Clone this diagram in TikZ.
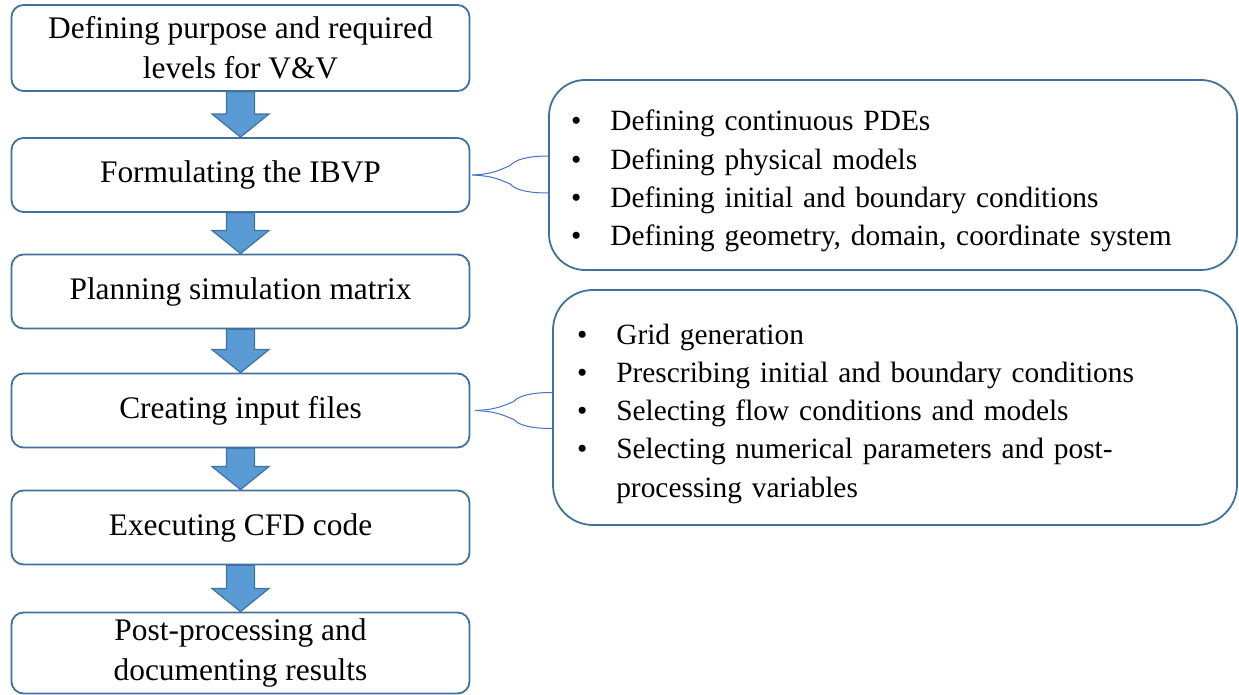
\documentclass[tikz,border=0pt]{standalone}
\usepackage{fontspec}
\setmainfont{Liberation Serif}
\usetikzlibrary{calc}
\definecolor{boxline}{HTML}{41719C}
\definecolor{arrowfill}{HTML}{5B9BD5}
\definecolor{braceline}{HTML}{4472C4}

% broad block arrow between two stacked steps
\newcommand{\steparrow}[2]{%
  \draw[boxline,fill=arrowfill,line width=0.6pt]
    ([xshift=-7pt]#1.south) -- ([xshift=-7pt,yshift=11.5pt]#2.north)
    -- ([xshift=-14.2pt,yshift=11.5pt]#2.north) -- (#2.north)
    -- ([xshift=14.2pt,yshift=11.5pt]#2.north) -- ([xshift=7pt,yshift=11.5pt]#2.north)
    -- ([xshift=7pt]#1.south) -- cycle;}

% split brace from a step to its detail box
\newcommand{\splitbrace}[3]{%
  \draw[braceline,line width=0.5pt] (#1) .. controls +(22,-1) and +(-10,4) .. ($(#1)!.5!(#2)$)
    .. controls +(5,-6) and +(-20,0) .. (#2);
  \draw[braceline,line width=0.5pt] (#1) .. controls +(22,1) and +(-10,-4) .. ($(#1)!.5!(#3)$)
    .. controls +(5,6) and +(-20,0) .. (#3);}

% bullet list, set a little low in its box
\newcommand{\detaillist}[1]{%
  \raisebox{-2.8pt}[\height][\depth]{\begin{tabular}{@{}l@{\hspace{14.5pt}}l@{}}#1\end{tabular}}}

\begin{document}
\begin{tikzpicture}[x=0.5pt,y=-0.5pt,
  stepbox/.style={draw=boxline,line width=0.9pt,rounded corners=6pt,fill=white,
    minimum width=229pt,minimum height=37pt,align=center,inner sep=2pt,
    font=\fontsize{15.7}{20}\selectfont},
  infobox/.style={draw=boxline,line width=0.9pt,fill=white,align=left,
    font=\fontsize{14.7}{19.1}\selectfont}]
  \useasboundingbox (0,0) rectangle (1239,695);

  % steps
  \node[stepbox,minimum height=43pt] (purpose) at (240.5,48) {Defining purpose and required\\levels for V\&V};
  \node[stepbox] (ibvp) at (240.5,175) {Formulating the IBVP};
  \node[stepbox] (matrix) at (240.5,291.5) {Planning simulation matrix};
  \node[stepbox] (input) at (240.5,410.5) {Creating input files};
  \node[stepbox] (exec) at (240.5,527.5) {Executing CFD code};
  \node[stepbox,minimum height=40.5pt] (post) at (240.5,653) {Post-processing and\\documenting results};

  \steparrow{purpose}{ibvp}
  \steparrow{ibvp}{matrix}
  \steparrow{matrix}{input}
  \steparrow{input}{exec}
  \steparrow{exec}{post}

  % details of the IBVP
  \node[infobox,rounded corners=18pt,minimum width=344pt,minimum height=95pt,
    text width=322pt,inner xsep=11pt] (pdes) at (893,175)
    {\detaillist{
      \textbullet & Defining continuous PDEs\\
      \textbullet & Defining physical models\\
      \textbullet & Defining initial and boundary conditions\\
      \textbullet & Defining geometry, domain, coordinate system}};

  % details of the input files
  \node[infobox,rounded corners=20pt,minimum width=342pt,minimum height=117.5pt,
    text width=318pt,inner xsep=12pt] (grid) at (895,407.5)
    {\detaillist{
      \textbullet & Grid generation\\
      \textbullet & Prescribing initial and boundary conditions\\
      \textbullet & Selecting flow conditions and models\\
      \textbullet & Selecting numerical parameters and post-\\
                  & processing variables}};

  \coordinate (ibvpR) at ([xshift=1pt]ibvp.east);
  \coordinate (pdesT) at ([yshift=9.5pt]pdes.west);
  \coordinate (pdesB) at ([yshift=-9pt]pdes.west);
  \splitbrace{ibvpR}{pdesT}{pdesB}

  \coordinate (inputR) at ([xshift=2.5pt]input.east);
  \coordinate (gridT) at ([yshift=7.5pt]grid.west);
  \coordinate (gridB) at ([yshift=-10.5pt]grid.west);
  \splitbrace{inputR}{gridT}{gridB}
\end{tikzpicture}
\end{document}
